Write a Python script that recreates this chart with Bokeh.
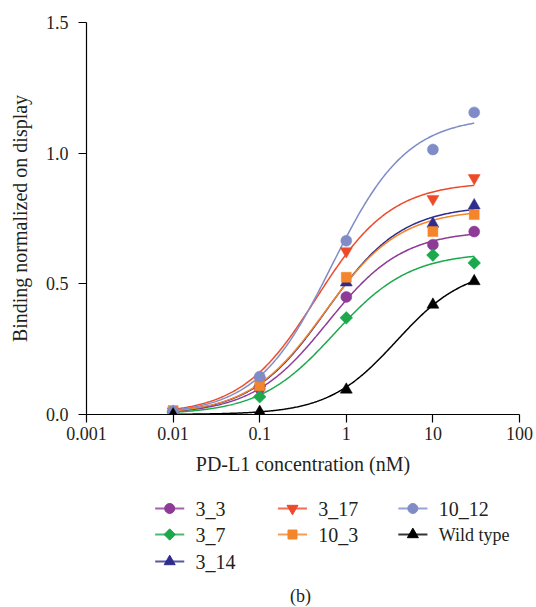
import numpy as np
from bokeh.plotting import figure
from bokeh.layouts import column
from bokeh.models import Range1d, FixedTicker, CustomJSTickFormatter, NumeralTickFormatter
from bokeh.core.properties import value
from bokeh.embed import file_html
from bokeh.resources import INLINE

# ---------------- data ----------------
conc = [0.01, 0.1, 1, 10, 30]  # PD-L1 concentration (nM)

series_names = ["3_3", "3_7", "3_14", "3_17", "10_3", "10_12", "Wild type"]
s3_3 = [0.010, 0.100, 0.450, 0.650, 0.700]
s3_7 = [0.010, 0.068, 0.370, 0.610, 0.580]
s3_14 = [0.010, 0.120, 0.505, 0.730, 0.800]
s3_17 = [0.012, 0.130, 0.625, 0.825, 0.905]
s10_3 = [0.015, 0.110, 0.525, 0.700, 0.765]
s10_12 = [0.012, 0.145, 0.665, 1.014, 1.156]
s_wt = [0.000, 0.010, 0.095, 0.420, 0.510]
series_values = [s3_3, s3_7, s3_14, s3_17, s10_3, s10_12, s_wt]

# fitted dose-response parameters: top, EC50 (nM), Hill slope
fit_top = [0.704, 0.620, 0.800, 0.890, 0.785, 1.140, 0.563]
fit_ec50 = [0.607, 0.730, 0.593, 0.450, 0.565, 0.680, 3.800]
fit_hill = [1.0, 1.0, 1.0, 1.0, 1.0, 1.0, 1.1]

x_ticks = [0.001, 0.01, 0.1, 1, 10, 100]
x_tick_labels = ["0.001", "0.01", "0.1", "1", "10", "100"]
y_ticks = [0.0, 0.5, 1.0, 1.5]

# ---------------- styles ----------------
colors = ["#8E3A97", "#1BA94C", "#2E2D8E", "#EE4A2A", "#F5852B", "#7F8CC8", "#000000"]
markers = ["circle", "square", "triangle", "inverted_triangle", "square", "circle", "triangle"]
mangles = [0, np.pi / 4, 0, 0, 0, 0, 0]
msizes = [11, 9, 12, 12, 10, 11, 12]
FONT = "'Liberation Serif', 'Times New Roman', serif"
TXT = "#231F20"

p = figure(width=536, height=480, x_axis_type="log",
           x_range=Range1d(0.001, 100), y_range=Range1d(0, 1.5),
           output_backend="svg", toolbar_location=None,
           min_border_left=86, min_border_right=17, min_border_top=22, min_border_bottom=66)
p.outline_line_color = None
p.grid.visible = False
p.background_fill_color = "white"
p.border_fill_color = "white"

p.xaxis.ticker = FixedTicker(ticks=x_ticks)
p.xaxis.formatter = CustomJSTickFormatter(args=dict(tvals=x_ticks, tlabels=x_tick_labels), code="""
let best = 0, d = Infinity;
for (let i = 0; i < tvals.length; i++) {
  const e = Math.abs(Math.log10(tvals[i]) - Math.log10(tick));
  if (e < d) { d = e; best = i; }
}
return tlabels[best];
""")
p.yaxis.ticker = FixedTicker(ticks=y_ticks)
p.yaxis.formatter = NumeralTickFormatter(format="0.0")

for ax in (p.xaxis[0], p.yaxis[0]):
    ax.minor_tick_line_color = None
    ax.major_tick_in = 0
    ax.major_tick_out = 8
    ax.axis_line_color = "black"
    ax.major_tick_line_color = "black"
    ax.axis_line_width = 1.2
    ax.major_tick_line_width = 1.2
    ax.major_label_text_font = FONT
    ax.major_label_text_font_size = "18px"
    ax.major_label_text_color = TXT
    ax.axis_label_text_font = FONT
    ax.axis_label_text_font_size = "20px"
    ax.axis_label_text_font_style = "normal"
    ax.axis_label_text_color = TXT

p.xaxis.axis_label = "PD-L1 concentration (nM)"
p.yaxis.axis_label = "Binding normalized on display"
p.xaxis.major_label_standoff = 4
p.yaxis.major_label_standoff = 10
p.xaxis.axis_label_standoff = 10
p.yaxis.axis_label_standoff = 12

# fitted curves
xc = np.logspace(np.log10(conc[0]), np.log10(conc[-1]), 300)
for i in range(len(series_names)):
    yc = fit_top[i] * xc ** fit_hill[i] / (xc ** fit_hill[i] + fit_ec50[i] ** fit_hill[i])
    p.line(xc, yc, line_color=colors[i], line_width=1.5)

# data points
for i in range(len(series_names)):
    p.scatter(conc, series_values[i], marker=markers[i], size=msizes[i], angle=mangles[i],
              fill_color=colors[i], line_color=colors[i], line_width=0.5)

# ---------------- legend (separate panel) ----------------
lg = figure(width=536, height=127, x_range=Range1d(0, 536), y_range=Range1d(127, 0),
            output_backend="svg", toolbar_location=None,
            x_axis_location=None, y_axis_location=None, min_border=0)
lg.outline_line_color = None
lg.grid.visible = False

legend_col = [0, 0, 0, 1, 1, 2, 2]
legend_row = [0, 1, 2, 0, 1, 0, 1]
col_x = [85, 237, 386]
row_y = [28, 54, 81]
for i, name in enumerate(series_names):
    x0 = col_x[legend_col[i]]
    y0 = row_y[legend_row[i]]
    lg.segment(x0=[x0], y0=[y0], x1=[x0 + 36], y1=[y0], line_color=colors[i], line_width=2, line_alpha=0.8)
    lg.scatter([x0 + 18], [y0], marker=markers[i], size=msizes[i] - 1, angle=mangles[i],
               fill_color=colors[i], line_color=colors[i])
    lg.text([x0 + 50], [y0], text=[name], text_font=value(FONT),
            text_font_size="18px" if name == "Wild type" else "20px",
            text_baseline="middle", text_align="left", text_color=TXT)

lg.text([265], [115], text=["(b)"], text_font=value(FONT), text_font_size="18px",
        text_baseline="middle", text_align="center", text_color=TXT)

layout = column(p, lg, spacing=0)
open("out.html", "w").write(file_html(layout, INLINE))
